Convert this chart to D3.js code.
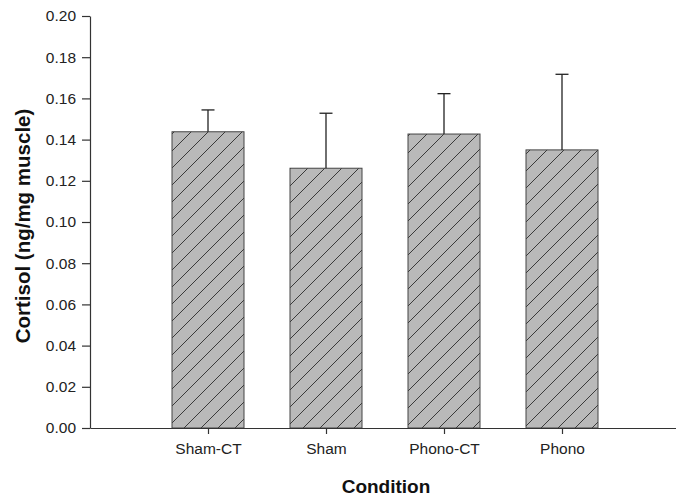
<!DOCTYPE html>
<html>
<head>
<meta charset="utf-8">
<script src="https://cdn.jsdelivr.net/npm/d3@7"></script>
<style>
  body { margin: 0; background: #fff; }
  text { font-family: "Liberation Sans", Arial, sans-serif; }
</style>
</head>
<body>
<svg id="chart" width="676" height="497"></svg>
<script>
var categories = ['Sham-CT', 'Sham', 'Phono-CT', 'Phono']
var means = [0.1438, 0.1261, 0.1427, 0.1350]
var errors = [0.0106, 0.0267, 0.0196, 0.0367]
var yTicks = [0, 0.02, 0.04, 0.06, 0.08, 0.10, 0.12, 0.14, 0.16, 0.18, 0.20]

var svg = d3.select('#chart')

// bars sit at slots 1..4 of an axis that runs 0..5
var x = d3.scaleLinear().domain([0, 5]).range([90, 680])
var y = d3.scaleLinear().domain([0, 0.2]).range([428, 16])
var barW = 72

var defs = svg.append('defs')
var pat = defs.append('pattern')
    .attr('id', 'hatch')
    .attr('patternUnits', 'userSpaceOnUse')
    .attr('width', 17)
    .attr('height', 17)
pat.append('rect').attr('width', 17).attr('height', 17).attr('fill', '#b9b9b9')
pat.append('path')
    .attr('d', 'M0,17 L17,0 M-4,4 L4,-4 M13,21 L21,13')
    .attr('stroke', '#3a3a3a')
    .attr('stroke-width', 1)

var data = categories.map(function(c, i) {
  return { name: c, mean: means[i], err: errors[i], pos: i + 1 }
})

// bars
svg.selectAll('rect.bar')
    .data(data)
    .enter()
    .append('rect')
    .attr('class', 'bar')
    .attr('x', function(d) { return x(d.pos) - barW / 2 })
    .attr('y', function(d) { return y(d.mean) })
    .attr('width', barW)
    .attr('height', function(d) { return y(0) - y(d.mean) })
    .attr('fill', 'url(#hatch)')
    .attr('stroke', '#444')
    .attr('stroke-width', 1)

// error bars (upper only)
var eb = svg.selectAll('g.err')
    .data(data)
    .enter()
    .append('g')
    .attr('class', 'err')
    .attr('stroke', '#222')
    .attr('stroke-width', 1.3)

eb.append('line')
    .attr('x1', function(d) { return x(d.pos) })
    .attr('x2', function(d) { return x(d.pos) })
    .attr('y1', function(d) { return y(d.mean) })
    .attr('y2', function(d) { return y(d.mean + d.err) })

eb.append('line')
    .attr('x1', function(d) { return x(d.pos) - 6.5 })
    .attr('x2', function(d) { return x(d.pos) + 6.5 })
    .attr('y1', function(d) { return y(d.mean + d.err) })
    .attr('y2', function(d) { return y(d.mean + d.err) })

// y axis
var yAxis = d3.axisLeft(y)
    .tickValues(yTicks)
    .tickFormat(d3.format('.2f'))
    .tickSize(8)
    .tickPadding(6)
    .tickSizeOuter(0)

var gy = svg.append('g')
    .attr('transform', 'translate(90,0)')
    .call(yAxis)
gy.selectAll('text').attr('font-size', '15.5px').attr('fill', '#222').style('font-family', '"Liberation Sans", Arial, sans-serif')
gy.selectAll('line, path').attr('stroke', '#333').attr('stroke-width', 1.2)

// x axis
var xAxis = d3.axisBottom(x)
    .tickValues([1, 2, 3, 4])
    .tickFormat(function(d) { return categories[d - 1] })
    .tickSize(6)
    .tickPadding(9)
    .tickSizeOuter(0)

var gx = svg.append('g')
    .attr('transform', 'translate(0,428)')
    .call(xAxis)
gx.selectAll('text').attr('font-size', '15.5px').attr('fill', '#222').style('font-family', '"Liberation Sans", Arial, sans-serif')
gx.selectAll('line, path').attr('stroke', '#333').attr('stroke-width', 1.2)

// axis titles
svg.append('text')
    .attr('x', 386)
    .attr('y', 493)
    .attr('text-anchor', 'middle')
    .attr('font-size', '19px')
    .attr('font-weight', 'bold')
    .attr('fill', '#111')
    .text('Condition')

svg.append('text')
    .attr('transform', 'translate(30,226) rotate(-90)')
    .attr('text-anchor', 'middle')
    .attr('font-size', '20.5px')
    .attr('font-weight', 'bold')
    .attr('fill', '#111')
    .text('Cortisol (ng/mg muscle)')
</script>
</body>
</html>
